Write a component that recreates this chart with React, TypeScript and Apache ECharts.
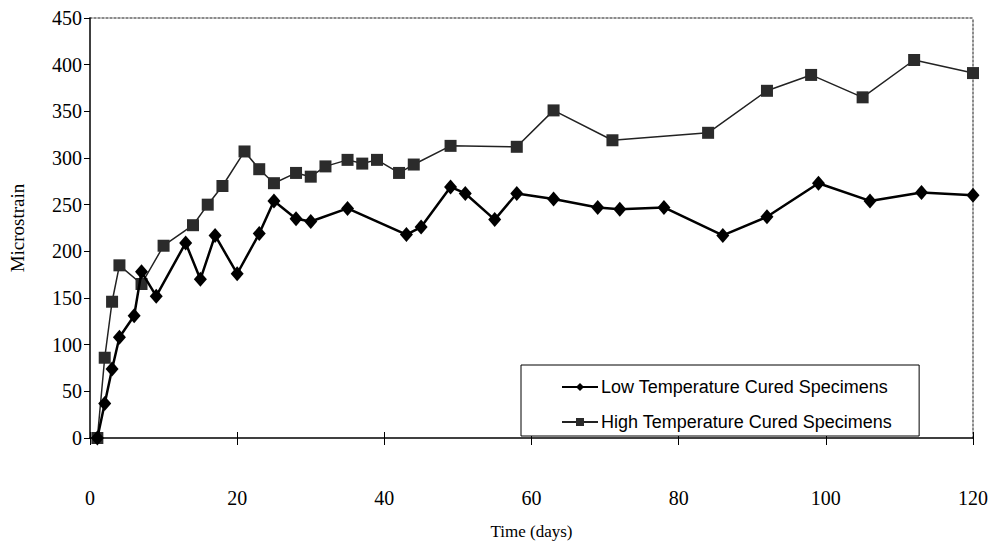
import React, { useEffect, useRef } from "react";
import * as echarts from "echarts";

// Microstrain readings, [day, microstrain]
const lowTempDays = [1, 2, 3, 4, 6, 7, 9, 13, 15, 17, 20, 23, 25, 28, 30, 35, 43, 45, 49, 51, 55, 58, 63, 69, 72, 78, 86, 92, 99, 106, 113, 120];
const lowTempStrain = [0, 37, 74, 108, 131, 178, 152, 209, 170, 217, 176, 219, 254, 235, 232, 246, 218, 226, 269, 262, 234, 262, 256, 247, 245, 247, 217, 237, 273, 254, 263, 260];

const highTempDays = [1, 2, 3, 4, 7, 10, 14, 16, 18, 21, 23, 25, 28, 30, 32, 35, 37, 39, 42, 44, 49, 58, 63, 71, 84, 92, 98, 105, 112, 120];
const highTempStrain = [0, 86, 146, 185, 165, 206, 228, 250, 270, 307, 288, 273, 284, 280, 291, 298, 294, 298, 284, 293, 313, 312, 351, 319, 327, 372, 389, 365, 405, 391];

const seriesNames = ["Low Temperature Cured Specimens", "High Temperature Cured Specimens"];

const serif = "'Liberation Serif', 'Times New Roman', serif";
const sans = "'Liberation Sans', Arial, sans-serif";

export default function App() {
  const ref = useRef<HTMLDivElement>(null);

  useEffect(() => {
    if (!ref.current) return;
    const chart = echarts.init(ref.current, null, { renderer: "svg" });
    const pair = (xs: number[], ys: number[]) => xs.map((x, i) => [x, ys[i]]);

    // dotted frame along the top and right sides of the plot
    const frameLine = { show: true, onZero: false, lineStyle: { color: "#666", width: 1.5, type: [2, 2] } };

    chart.setOption({
      animation: false,
      backgroundColor: "#ffffff",
      grid: { left: 85, top: 18, right: 18, bottom: 102 },
      legend: {
        orient: "vertical",
        left: 521,
        top: 365,
        padding: [13, 27, 5, 40],
        itemGap: 17,
        itemWidth: 36,
        itemHeight: 10,
        backgroundColor: "#ffffff",
        borderColor: "#000",
        borderWidth: 1,
        textStyle: { fontFamily: sans, fontSize: 18, color: "#000", padding: [0, 0, 0, -2] },
        data: seriesNames,
      },
      xAxis: [
        {
          type: "value",
          min: 0,
          max: 120,
          interval: 20,
          name: "Time (days)",
          nameLocation: "middle",
          nameGap: 85,
          nameTextStyle: { fontFamily: serif, fontSize: 17, color: "#000" },
          axisLine: { show: true, onZero: false, lineStyle: { color: "#000", width: 1.5 } },
          axisTick: { show: true, length: 7, lineStyle: { color: "#000" } },
          axisLabel: { fontFamily: serif, fontSize: 20, color: "#000", margin: 50 },
          splitLine: { show: false },
          z: 5,
        },
        {
          type: "value",
          min: 0,
          max: 120,
          interval: 20,
          position: "bottom",
          axisLine: { show: false, onZero: false },
          axisTick: { show: true, inside: true, length: 6, lineStyle: { color: "#000" } },
          axisLabel: { show: false },
          splitLine: { show: false },
        },
        {
          type: "value",
          min: 0,
          max: 120,
          position: "top",
          axisLine: frameLine,
          axisTick: { show: false },
          axisLabel: { show: false },
          splitLine: { show: false },
        },
      ],
      yAxis: [
        {
          type: "value",
          min: 0,
          max: 450,
          interval: 50,
          name: "Microstrain",
          nameLocation: "middle",
          nameGap: 63,
          nameTextStyle: { fontFamily: serif, fontSize: 19, color: "#000" },
          axisLine: { show: true, onZero: false, lineStyle: { color: "#000", width: 1.5 } },
          axisTick: { show: true, length: 6, lineStyle: { color: "#000" } },
          axisLabel: { fontFamily: serif, fontSize: 20, color: "#000", margin: 8 },
          splitLine: { show: false },
          z: 5,
        },
        {
          type: "value",
          min: 0,
          max: 450,
          position: "right",
          axisLine: frameLine,
          axisTick: { show: false },
          axisLabel: { show: false },
          splitLine: { show: false },
        },
      ],
      series: [
        {
          name: seriesNames[0],
          type: "line",
          data: pair(lowTempDays, lowTempStrain),
          symbol: "diamond",
          symbolSize: [13, 15],
          lineStyle: { color: "#000", width: 2.5 },
          itemStyle: { color: "#000" },
          z: 3,
        },
        {
          name: seriesNames[1],
          type: "line",
          data: pair(highTempDays, highTempStrain),
          symbol: "rect",
          symbolSize: 12,
          lineStyle: { color: "#222", width: 1.5 },
          itemStyle: { color: "#2b2b2b" },
          z: 2,
        },
      ],
    });

    return () => chart.dispose();
  }, []);

  return <div ref={ref} style={{ width: 991, height: 545, position: "absolute", left: 0, top: 0 }} />;
}
